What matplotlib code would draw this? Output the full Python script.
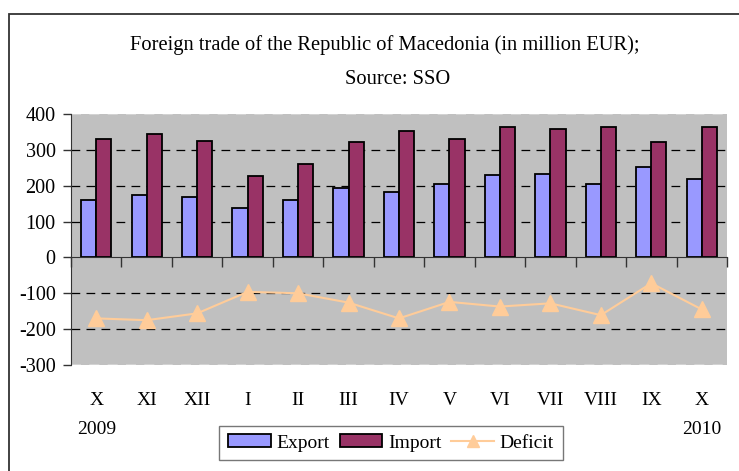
import matplotlib.pyplot as plt
import numpy as np
from matplotlib.patches import Rectangle
from matplotlib.lines import Line2D
from matplotlib.patches import Patch

months = ['X', 'XI', 'XII', 'I', 'II', 'III', 'IV', 'V', 'VI', 'VII', 'VIII', 'IX', 'X']
years = ['2009', '', '', '', '', '', '', '', '', '', '', '', '2010']
export = [160, 173, 169, 137, 160, 193, 182, 206, 229, 233, 206, 252, 219]
imports = [330, 345, 326, 228, 261, 322, 353, 330, 364, 358, 364, 322, 364]
deficit = [-170, -175, -156, -96, -100, -126, -170, -124, -137, -128, -161, -72, -145]

plt.rcParams['font.family'] = ['Liberation Serif', 'DejaVu Serif']
plt.rcParams['axes.unicode_minus'] = False

W, H = 739, 471
fig = plt.figure(figsize=(W / 100, H / 100), dpi=100)
ax = fig.add_axes([71 / W, 1 - 365 / H, (727 - 71) / W, (365 - 114) / H])

x = np.arange(len(months))
width = 0.3
ax.set_facecolor('#c0c0c0')
for y in [100, 200, 300, -100, -200]:
    ax.axhline(y, color='black', lw=0.9, ls=(0, (7, 5)), zorder=1)
ax.axhline(400, color='#d8d8d8', lw=1.2, ls=(0, (6, 5)), zorder=1)
ax.axhline(-300, color='#d8d8d8', lw=1.2, ls=(0, (6, 5)), zorder=1)

ax.bar(x - width / 2, export, width, color='#9999ff', edgecolor='black', lw=1.3, zorder=3)
ax.bar(x + width / 2, imports, width, color='#993366', edgecolor='black', lw=1.3, zorder=3)
ax.plot(x, deficit, color='#ffcc99', lw=1.5, marker='^', ms=11, zorder=4)

ax.set_xlim(-0.5, len(months) - 0.5)
ax.set_ylim(-300, 400)
ax.set_yticks(range(-300, 401, 100))
ax.tick_params(axis='y', direction='out', length=6, width=1, colors='#333333',
               labelsize=14.5, labelcolor='black', pad=5)

ax.spines['top'].set_visible(False)
ax.spines['right'].set_visible(False)
ax.spines['left'].set_color('#333333')
ax.spines['bottom'].set_position(('data', 0))
ax.spines['bottom'].set_color('#333333')
ax.spines['bottom'].set_zorder(5)
ax.set_xticks(np.arange(len(months) + 1) - 0.5)
ax.set_xticklabels([])
ax.tick_params(axis='x', direction='out', length=7, width=1, colors='#333333')

tr = ax.get_xaxis_transform()
for i, m in enumerate(months):
    ax.text(i, -0.14, m, transform=tr, ha='center', va='center', fontsize=14)
    if years[i]:
        ax.text(i, -0.255, years[i], transform=tr, ha='center', va='center', fontsize=14)

fig.text(385 / W, 1 - 45 / H, 'Foreign trade of the Republic of Macedonia (in million EUR);',
         ha='center', va='center', fontsize=14.8)
fig.text(398 / W, 1 - 80 / H, 'Source: SSO', ha='center', va='center', fontsize=14.8)

handles = [Patch(facecolor='#9999ff', edgecolor='black', lw=1.3),
           Patch(facecolor='#993366', edgecolor='black', lw=1.3),
           Line2D([], [], color='#ffcc99', lw=1.5, marker='^', ms=9)]
leg = fig.legend(handles, ['Export', 'Import', 'Deficit'], loc='center',
                 bbox_to_anchor=(391 / W, 1 - 443 / H), ncol=3, fontsize=14,
                 frameon=True, fancybox=False, edgecolor='#555555',
                 handlelength=2.2, handleheight=0.6, handletextpad=0.3, columnspacing=0.5,
                 borderpad=0.45, borderaxespad=0)
leg.get_frame().set_linewidth(1)

fig.patches.append(Rectangle((9 / W, -0.1), 1.2, 1 - 14 / H + 0.1, transform=fig.transFigure,
                             fill=False, edgecolor='#333333', lw=1.3))

fig.savefig('out.png', dpi=100)
